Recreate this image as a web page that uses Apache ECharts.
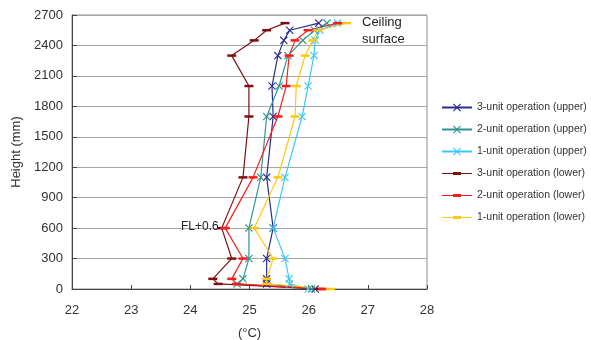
<!DOCTYPE html>
<html>
<head>
<meta charset="utf-8">
<script src="https://cdn.jsdelivr.net/npm/echarts@6/dist/echarts.min.js"></script>
<style>
  html, body { margin: 0; padding: 0; background: #fff; }
  #chart { width: 591px; height: 340px; }
</style>
</head>
<body>
<div id="chart"></div>
<script>
// measuring heights (mm), floor -> ceiling
const heights = [0, 50, 100, 300, 600, 1100, 1700, 2000, 2300, 2450, 2550, 2620];

// temperatures (°C) at each height
const unit3Upper = [26.11, 25.29, 25.29, 25.29, 25.40, 25.29, 25.40, 25.38, 25.48, 25.58, 25.68, 26.17];
const unit2Upper = [26.05, 24.79, 24.89, 24.99, 24.99, 25.19, 25.29, 25.50, 25.65, 25.90, 26.10, 26.31];
const unit1Upper = [25.99, 25.68, 25.67, 25.60, 25.40, 25.60, 25.89, 25.99, 26.09, 26.11, 26.19, 26.49];
const unit3Lower = [26.20, 24.47, 24.38, 24.70, 24.53, 24.89, 24.99, 24.99, 24.70, 25.08, 25.29, 25.60];
const unit2Lower = [26.24, 24.78, 24.70, 24.89, 24.59, 25.06, 25.48, 25.62, 25.67, 25.77, 25.99, 26.49];
const unit1Lower = [26.37, 25.29, 25.29, 25.40, 25.08, 25.48, 25.77, 25.79, 25.94, 26.07, 26.16, 26.64];

const seriesNames = [
    '3-unit operation (upper)',
    '2-unit operation (upper)',
    '1-unit operation (upper)',
    '3-unit operation (lower)',
    '2-unit operation (lower)',
    '1-unit operation (lower)'
];
const seriesValues = [unit3Upper, unit2Upper, unit1Upper, unit3Lower, unit2Lower, unit1Lower];
const seriesColors = ['#2b2b8f', '#2e9690', '#3cc8f5', '#7f0f0f', '#ff1a1a', '#ffc814'];

const xTicks = {min: 22, max: 28, step: 1};
const yTicks = {min: 0, max: 2700, step: 300};

// thin "x" cross for upper series, short dash for lower ones
const crossPath = 'path://M1,0L5,4L9,0L10,1L6,5L10,9L9,10L5,6L1,10L0,9L4,5L0,1Z';
// legend icon for the lower series: thin line with a dash in the middle
const dashLegendIcon = 'path://M0,4.4L30,4.4L30,5.6L0,5.6Z M11,3.5L19,3.5L19,6.5L11,6.5Z';

const font = 'Arial, "Liberation Sans", sans-serif';

const chart = echarts.init(document.getElementById('chart'));

const series = seriesValues.map((vals, i) => {
    const upper = i < 3;
    return {
        name: seriesNames[i],
        type: 'line',
        data: vals.map((t, k) => [t, heights[k]]),
        symbol: upper ? crossPath : 'rect',
        symbolSize: upper ? 8 : [9, 2.5],
        showSymbol: true,
        lineStyle: {color: seriesColors[i], width: 1.2},
        itemStyle: {color: seriesColors[i]},
        emphasis: {disabled: true},
        animation: false
    };
});

const legendData = seriesNames.map((n, i) => (i < 3 ? {name: n} : {name: n, icon: dashLegendIcon}));

const option = {
    backgroundColor: '#fff',
    textStyle: {fontFamily: font},
    grid: {
        left: 72,
        right: 164,
        top: 15,
        bottom: 51,
        outerBoundsMode: 'none',
        containLabel: false,
        show: true,
        borderColor: '#8c8c8c',
        borderWidth: 1
    },
    legend: {
        orient: 'vertical',
        left: 436,
        top: 97,
        itemWidth: 30,
        itemHeight: 10,
        itemGap: 11,
        textStyle: {fontSize: 10.5, color: '#333', fontFamily: font},
        data: legendData
    },
    xAxis: {
        type: 'value',
        min: xTicks.min,
        max: xTicks.max,
        interval: xTicks.step,
        name: '(°C)',
        nameLocation: 'middle',
        nameGap: 38,
        nameTextStyle: {fontSize: 13, color: '#333'},
        axisLine: {show: true, onZero: false, lineStyle: {color: '#444', width: 1}},
        axisTick: {show: true, inside: true, length: 4, lineStyle: {color: '#444'}},
        axisLabel: {fontSize: 13, color: '#333', margin: 15},
        splitLine: {show: false}
    },
    yAxis: {
        type: 'value',
        min: yTicks.min,
        max: yTicks.max,
        interval: yTicks.step,
        name: 'Height (mm)',
        nameLocation: 'middle',
        nameGap: 38,
        nameTextStyle: {fontSize: 13, color: '#333'},
        axisLine: {show: true, lineStyle: {color: '#444', width: 1}},
        axisTick: {show: true, inside: true, length: 5, lineStyle: {color: '#444'}},
        axisLabel: {fontSize: 13, color: '#333', margin: 9, formatter: v => String(v)},
        splitLine: {show: true, lineStyle: {color: '#a6a6a6', width: 1}}
    },
    graphic: [
        {type: 'text', left: 362, top: 16, style: {text: 'Ceiling', fill: '#222', font: '13px ' + font}},
        {type: 'text', left: 362, top: 33, style: {text: 'surface', fill: '#222', font: '13px ' + font}},
        {type: 'text', left: 181, top: 221, z: 10, style: {text: 'FL+0.6', fill: '#222', font: '12px ' + font}}
    ],
    series: series
};

chart.setOption(option);
</script>
</body>
</html>
